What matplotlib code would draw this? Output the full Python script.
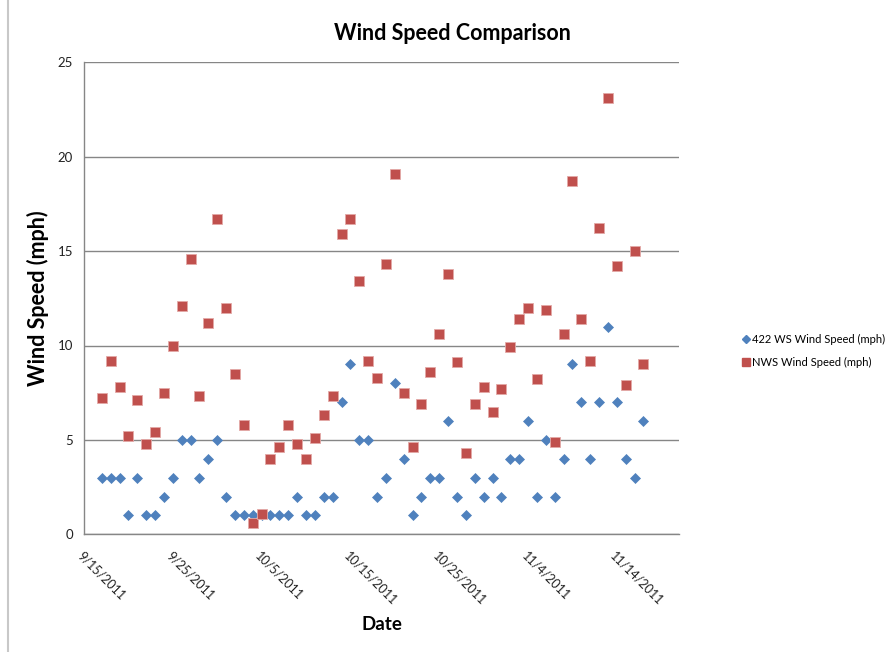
import matplotlib
matplotlib.use("Agg")
import matplotlib.pyplot as plt
import matplotlib.dates as mdates
from matplotlib.lines import Line2D
import pandas as pd

plt.rcParams['font.family'] = ['Lato', 'DejaVu Sans']

# Daily observations, 9/17/2011 .. 11/17/2011
dates = pd.date_range('2011-09-17', '2011-11-17', freq='D')

ws422 = [3, 3, 3, 1, 3, 1, 1, 2, 3, 5,
         5, 3, 4, 5, 2, 1, 1, 1, 1, 1,
         1, 1, 2, 1, 1, 2, 2, 7, 9, 5,
         5, 2, 3, 8, 4, 1, 2, 3, 3, 6,
         2, 1, 3, 2, 3, 2, 4, 4, 6, 2,
         5, 2, 4, 9, 7, 4, 7, 11, 7, 4,
         3, 6]

nws = [7.2, 9.2, 7.8, 5.2, 7.1, 4.8, 5.4, 7.5, 10.0, 12.1,
       14.6, 7.3, 11.2, 16.7, 12.0, 8.5, 5.8, 0.6, 1.1, 4.0,
       4.6, 5.8, 4.8, 4.0, 5.1, 6.3, 7.3, 15.9, 16.7, 13.4,
       9.2, 8.3, 14.3, 19.1, 7.5, 4.6, 6.9, 8.6, 10.6, 13.8,
       9.1, 4.3, 6.9, 7.8, 6.5, 7.7, 9.9, 11.4, 12.0, 8.2,
       11.9, 4.9, 10.6, 18.7, 11.4, 9.2, 16.2, 23.1, 14.2, 7.9,
       15.0, 9.0]

series_names = ['422 WS Wind Speed (mph)', 'NWS Wind Speed (mph)']
x_ticks = pd.date_range('2011-09-15', '2011-11-14', freq='10D')
y_ticks = [0, 5, 10, 15, 20, 25]

blue = '#4F81BD'
red = '#C0504D'
grid_c = '#868686'

fig = plt.figure(figsize=(8.87, 6.52), dpi=100)
ax = fig.add_axes([84/887, 1-534.3/652, (679-84)/887, (534.3-62.3)/652])

ax.plot(dates, ws422, linestyle='none', marker='D', ms=5.4, color=blue,
        mec=blue, mew=0.5, zorder=3, label=series_names[0])
ax.plot(dates, nws, linestyle='none', marker='s', ms=7.0, color=red,
        mec='#E3A9A7', mew=0.6, zorder=4, label=series_names[1])

ax.set_xlim(pd.Timestamp('2011-09-15'), pd.Timestamp('2011-11-21'))
ax.set_ylim(0, 25)
ax.set_yticks(y_ticks)
ax.set_xticks(x_ticks)
ax.xaxis.set_major_formatter(mdates.DateFormatter('%-m/%-d/%Y'))
for lbl in ax.get_xticklabels():
    lbl.set_rotation(-45)
    lbl.set_ha('left')
    lbl.set_va('top')
    lbl.set_rotation_mode('anchor')

ax.yaxis.grid(True, color=grid_c, linewidth=1.0)
ax.set_axisbelow(True)
for s in ['top', 'right']:
    ax.spines[s].set_visible(False)
for s in ['left', 'bottom']:
    ax.spines[s].set_color(grid_c)
    ax.spines[s].set_linewidth(1.0)
ax.tick_params(axis='y', length=0, pad=8, labelsize=9.5, colors='#222222')
ax.tick_params(axis='x', length=0, pad=11, labelsize=9, colors='#222222')

fig.text(381.5/887, 1-625/652, 'Date', fontsize=13.5, fontweight='bold',
         ha='center', va='center')
fig.text(38/887, 1-298/652, 'Wind Speed (mph)', fontsize=15.5,
         fontweight='bold', ha='center', va='center', rotation=90)
fig.text(452/887, 1-33/652, 'Wind Speed Comparison', fontsize=15.5,
         fontweight='bold', ha='center', va='center')

handles = [Line2D([], [], linestyle='none', marker='D', ms=4.5, color=blue),
           Line2D([], [], linestyle='none', marker='s', ms=6, color=red)]
fig.legend(handles, series_names, loc='center left',
           bbox_to_anchor=(738/887, 1-351/652), frameon=False,
           fontsize=8, handlelength=0.6, handletextpad=0.3,
           labelspacing=1.1, borderaxespad=0)

fig.add_artist(Line2D([8/887, 8/887], [0, 1], color='#C8C8C8', linewidth=1.5,
                      transform=fig.transFigure))

fig.savefig('out.png', dpi=100)
